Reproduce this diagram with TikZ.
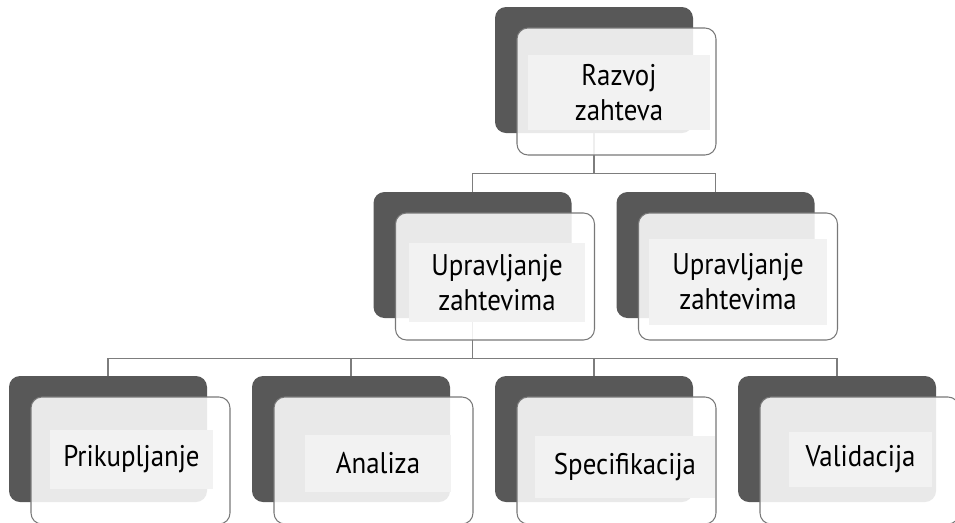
\documentclass[tikz,border=0pt]{standalone}
\usepackage{fontspec}
\setmainfont[FakeStretch=0.9]{PT Sans}
\definecolor{boxdark}{RGB}{88,88,88}
\definecolor{edgegray}{RGB}{120,120,120}
\definecolor{labelgray}{RGB}{242,242,242}
\definecolor{linegray}{RGB}{125,125,125}
\tikzset{
    backbox/.style={fill=boxdark, rounded corners=0.22cm, minimum width=3.96cm, minimum height=2.52cm, inner sep=0pt},
    frontbox/.style={draw=edgegray, line width=0.6pt, fill=white, fill opacity=0.87, rounded corners=0.22cm, minimum width=3.98cm, minimum height=2.54cm, inner sep=0pt},
    labelbox/.style={fill=labelgray, inner sep=0pt, minimum height=1.15cm, align=center, font=\fontsize{17}{20}\selectfont},
    link/.style={draw=linegray, line width=0.6pt}
}
\begin{document}
\begin{tikzpicture}
        \fill[white] (0, 0) rectangle (19.1, -10.44);
        \clip (0, 0) rectangle (19.1, -10.44);
        % back boxes
        \node[backbox] at (11.88, -1.40) (razvojB) {};
        \node[backbox] at (9.45, -5.10) (upr1B) {};
        \node[backbox] at (14.31, -5.10) (upr2B) {};
        \node[backbox] at (2.16, -8.78) (prikB) {};
        \node[backbox] at (7.02, -8.78) (analizaB) {};
        \node[backbox] at (11.88, -8.78) (specB) {};
        \node[backbox] at (16.74, -8.78) (validB) {};
        % connectors
        \draw[link] (razvojB.south) -- ++(0, -0.8) -| (upr1B.north);
        \draw[link] (razvojB.south) -- ++(0, -0.8) -| (upr2B.north);
        \draw[link] (upr1B.south) -- ++(0, -0.8) -| (prikB.north);
        \draw[link] (upr1B.south) -- ++(0, -0.8) -| (analizaB.north);
        \draw[link] (upr1B.south) -- ++(0, -0.8) -| (specB.north);
        \draw[link] (upr1B.south) -- ++(0, -0.8) -| (validB.north);
        % front boxes
        \node[frontbox] at (12.33, -1.83) (razvojF) {};
        \node[frontbox] at (9.90, -5.53) (upr1F) {};
        \node[frontbox] at (14.76, -5.53) (upr2F) {};
        \node[frontbox] at (2.61, -9.21) (prikF) {};
        \node[frontbox] at (7.47, -9.21) (analizaF) {};
        \node[frontbox] at (12.33, -9.21) (specF) {};
        \node[frontbox] at (17.19, -9.21) (validF) {};
        % labels
        \node[labelbox, minimum width=3.64cm, minimum height=1.5cm] at (12.38, -1.85) (razvoj) {Razvoj\\zahteva};
        \node[labelbox, minimum width=3.52cm, minimum height=1.58cm] at (9.94, -5.65) (upr1) {Upravljanje\\zahtevima};
        \node[labelbox, minimum width=3.56cm, minimum height=1.72cm] at (14.76, -5.64) (upr2) {Upravljanje\\zahtevima};
        \node[labelbox, minimum width=3.26cm, minimum height=1.18cm] at (2.63, -9.19) (prik) {Prikupljanje};
        \node[labelbox, minimum width=2.92cm, minimum height=1.14cm] at (7.56, -9.27) (analiza) {Analiza};
        \node[labelbox, minimum width=3.60cm, minimum height=1.24cm] at (12.50, -9.34) (spec) {Specifikacija};
        \node[labelbox, minimum width=2.86cm, minimum height=1.10cm] at (17.21, -9.19) (valid) {Validacija};
    \end{tikzpicture}
\end{document}
